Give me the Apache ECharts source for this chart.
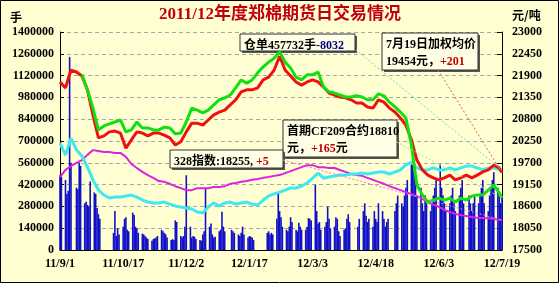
<!DOCTYPE html>
<html><head><meta charset="utf-8">
<script src="https://cdn.jsdelivr.net/npm/echarts/dist/echarts.min.js"></script>
<style>html,body{margin:0;padding:0;background:#fff}#c{width:559px;height:283px}</style>
</head><body><div id="c"></div>
<script>
// ---- categories / ticks ----
const startDate = [2011, 8, 1]; // 2011-09-01 (day 0)
const totalDays = 322;          // 2012-07-19
const xTickLabels = ['11/9/1','11/10/17','11/12/2','12/1/17','12/3/3','12/4/18','12/6/3','12/7/19'];
const holidays = ['2011-09-12','2011-10-03','2011-10-04','2011-10-05','2011-10-06','2011-10-07',
  '2012-01-02','2012-01-03','2012-01-23','2012-01-24','2012-01-25','2012-01-26','2012-01-27',
  '2012-04-02','2012-04-03','2012-04-04','2012-04-30','2012-05-01','2012-06-22'];

// ---- daily volume (手), one value per trading day, by month ----
const volSep = [480000,470000,450000,360000,380000,1240000,560000,400000,390000,560000,540000,300000,310000,290000,280000,440000,370000,360000,270000,230000,200000];
const volOct = [110000,250000,90000,140000,100000,150000,200000,210000,130000,120000,240000,225000,150000,140000,110000,105000];
const volNov = [100000,90000,80000,70000,60000,70000,75000,80000,90000,130000,120000,110000,100000,80000,65000,70000,65000,190000,180000,90000,80000,90000];
const volDec = [150000,480000,150000,80000,90000,85000,70000,65000,60000,100000,120000,400000,150000,170000,100000,80000,85000,120000,130000,245000,150000,120000];
const volJan = [130000,120000,110000,100000,90000,110000,150000,100000,80000,90000,85000,80000,65000,110000,120000];
const volFeb = [100000,110000,100000,200000,370000,250000,210000,150000,130000,120000,150000,210000,180000,130000,120000,175000,150000,130000,130000,150000,205000];
const volMar = [200000,190000,420000,250000,170000,180000,130000,150000,180000,280000,200000,140000,150000,210000,200000,120000,90000,130000,140000,200000,230000,180000];
const volApr = [150000,200000,250000,300000,220000,180000,200000,150000,250000,200000,180000,300000,250000,200000,150000,180000,200000];
const volMay = [250000,300000,350000,300000,280000,350000,400000,450000,550000,600000,500000,450000,350000,400000,300000,250000,350000,300000,250000,300000,350000,400000];
const volJun = [450000,550000,400000,350000,300000,250000,300000,350000,400000,300000,250000,350000,400000,450000,300000,350000,300000,250000,300000,350000];
const volJul = [300000,350000,400000,450000,300000,250000,350000,400000,450000,500000,400000,350000,300000,350000];

// ---- line samples (day offsets from 2011-09-01) ----
const lineDays = [0,4,8,12,16,20,24,28,32,36,40,44,48,52,56,60,64,68,72,76,80,84,88,92,96,100,104,108,112,116,120,124,128,132,136,140,144,148,152,156,160,164,168,172,176,180,184,188,192,196,200,204,208,212,216,220,224,228,232,236,240,244,248,252,256,260,264,268,272,276,280,284,288,292,296,300,304,308,312,316,320,322];
// 加权均价 (元/吨)
const avgPrice = [21740,21590,22040,21990,21890,21540,20910,20330,20380,20480,20500,20450,20070,20280,20480,20450,20380,20450,20450,20400,20330,20150,20230,20480,20700,20700,20650,20780,20910,20980,21030,21160,21290,21490,21540,21540,21590,21790,21860,22040,22390,22040,21890,21740,21660,21740,21790,21740,21610,21460,21410,21360,21340,21290,21210,21210,21110,21080,21290,21230,21080,20980,20830,20650,20280,19770,19520,19390,19320,19270,19320,19390,19270,19320,19390,19320,19390,19470,19520,19640,19570,19454];
// 首期合约 (元/吨)
const firstContract = [null,null,null,null,21920,21540,21080,20530,20630,20680,20730,20780,20480,20530,20730,20580,20580,20530,20530,20600,20580,20430,20450,20730,21080,21030,20960,21030,21160,21290,21340,21410,21590,21790,21710,21790,21970,22120,22240,22340,22500,22240,22090,21860,21790,21920,21920,21990,21610,21490,21460,21410,21360,21360,21390,21360,21290,21290,21440,21390,21230,21110,20980,20830,20150,19140,18890,18710,18760,18810,18760,18810,18710,18810,18760,18860,18890,18890,19010,19140,18940,18810];
// 仓单 (手)
const receipts = [687000,610000,719000,642000,604000,533000,450000,385000,353000,334000,340000,340000,347000,353000,340000,321000,308000,302000,302000,308000,295000,283000,276000,270000,263000,244000,238000,276000,302000,283000,302000,308000,295000,302000,308000,295000,289000,321000,347000,360000,372000,385000,398000,398000,411000,430000,462000,494000,462000,469000,475000,482000,482000,488000,488000,494000,488000,494000,501000,501000,488000,501000,514000,546000,565000,527000,514000,514000,527000,514000,514000,527000,514000,527000,539000,539000,527000,514000,527000,527000,514000,514000];
// 328指数 (元/吨)
const index328 = [19340,19520,19620,19700,19770,19900,20020,20000,19970,19970,19950,19950,19850,19670,19570,19470,19390,19320,19240,19220,19170,19110,19060,19010,19010,19060,19060,19060,19090,19090,19110,19170,19190,19220,19240,19270,19290,19320,19340,19370,19390,19440,19490,19540,19590,19640,19640,19590,19590,19570,19570,19520,19470,19420,19390,19370,19320,19270,19220,19170,19110,19060,19010,18960,18910,18860,18790,18710,18640,18590,18510,18460,18410,18380,18360,18330,18310,18310,18300,18280,18260,18255];

// ---- build trading-day positions ----
const t0 = Date.UTC(startDate[0], startDate[1], startDate[2]);
const tradeDays = [];
for (let d = 0; d <= totalDays; d++) {
  const dt = new Date(t0 + d * 86400000);
  const wd = dt.getUTCDay();
  const iso = dt.toISOString().slice(0, 10);
  if (wd !== 0 && wd !== 6 && holidays.indexOf(iso) < 0) tradeDays.push(d);
}
const volume = [].concat(volSep, volOct, volNov, volDec, volJan, volFeb, volMar, volApr, volMay, volJun, volJul);
const volData = tradeDays.map((d, i) => [d, volume[i]]);
const pair = arr => lineDays.map((d, i) => [d, arr[i]]);

const FONT = '"Liberation Serif", "Noto Sans CJK SC", serif';
const CJK = '"Noto Sans CJK SC", "Liberation Serif", sans-serif';
const MIX = '"Liberation Serif", "Noto Sans CJK SC", serif';

const chart = echarts.init(document.getElementById('c'));
const option = {
  backgroundColor: '#FFFFD2',
  animation: false,
  grid: { left: 60, right: 57, top: 32, bottom: 33 },
  xAxis: {
    type: 'value', min: 0, max: totalDays, interval: 46,
    axisLine: { lineStyle: { color: '#000', width: 1 } },
    axisTick: { show: false },
    splitLine: { show: false },
    axisLabel: { margin: 8, color: '#000', fontFamily: FONT, fontWeight: 'bold', fontSize: 12,
      formatter: v => xTickLabels[Math.round(v / 46)] || '' }
  },
  yAxis: [
    { type: 'value', min: 0, max: 1400000, interval: 140000, position: 'left',
      axisLine: { show: true, lineStyle: { color: '#000' } },
      axisTick: { show: true, inside: true, length: 4, lineStyle: { color: '#000' } },
      splitLine: { show: true, lineStyle: { color: '#A8A8A8', type: [4, 3], width: 1 } },
      axisLabel: { color: '#000', fontFamily: FONT, fontWeight: 'bold', fontSize: 12, margin: 6,
        formatter: v => String(v) } },
    { type: 'value', min: 17500, max: 23000, interval: 550, position: 'right',
      axisLine: { show: true, lineStyle: { color: '#000' } },
      axisTick: { show: true, inside: true, length: 5, lineStyle: { color: '#000' } },
      splitLine: { show: false },
      axisLabel: { color: '#000', fontFamily: FONT, fontWeight: 'bold', fontSize: 12, margin: 10,
        formatter: v => String(v) } }
  ],
  series: [
    { name: '成交量', type: 'bar', yAxisIndex: 0, data: volData, barWidth: 1.6,
      itemStyle: { color: '#1010C8' }, z: 1 },
    { name: '328指数', type: 'line', yAxisIndex: 1, data: pair(index328), symbol: 'none',
      lineStyle: { color: '#E020E0', width: 2 }, z: 2 },
    { name: '仓单', type: 'line', yAxisIndex: 0, data: pair(receipts), symbol: 'none',
      lineStyle: { color: '#40E8F0', width: 3 }, z: 3 },
    { name: '加权均价', type: 'line', yAxisIndex: 1, data: pair(avgPrice), symbol: 'none',
      lineStyle: { color: '#F01010', width: 3 }, z: 4 },
    { name: '首期合约', type: 'line', yAxisIndex: 1, data: pair(firstContract), symbol: 'none', connectNulls: false,
      lineStyle: { color: '#10E010', width: 3 }, z: 5 }
  ]
};
chart.setOption(option);

function endPx(axisIdx, arr) {
  return chart.convertToPixel({ xAxisIndex: 0, yAxisIndex: axisIdx }, [lineDays[lineDays.length - 1], arr[arr.length - 1]]);
}
const pCyan = endPx(0, receipts), pRed = endPx(1, avgPrice), pGreen = endPx(1, firstContract), pMag = endPx(1, index328);

function dotted(x1, y1, p, color) {
  return { type: 'line', z: 20, shape: { x1, y1, x2: p[0], y2: p[1] },
    style: { stroke: color, lineWidth: 1, lineDash: [2, 2] } };
}
function box(x, y, w, h, text, rich) {
  return { type: 'group', z: 30, children: [
    { type: 'rect', shape: { x: x + 2, y: y + 2, width: w, height: h }, style: { fill: '#555' } },
    { type: 'rect', shape: { x, y, width: w, height: h }, style: { fill: '#FFFFE6', stroke: '#333', lineWidth: 1 } },
    { type: 'text', style: { x: x + 4, y: y + 3, text, rich, lineHeight: 17 } }
  ] };
}
const base = { fontFamily: MIX, fontWeight: 'bold', fontSize: 12, fill: '#000', lineHeight: 17 };
const richAll = {
  k: base,
  b: Object.assign({}, base, { fill: '#000080' }),
  r: Object.assign({}, base, { fill: '#C00000' })
};

chart.setOption({
  graphic: [
    { type: 'rect', z: 50, shape: { x: 0.5, y: 0.5, width: 558, height: 282 }, style: { fill: 'none', stroke: '#000', lineWidth: 1 } },
    { type: 'text', z: 50, style: { x: 280, y: 15, text: '2011/12年度郑棉期货日交易情况', align: 'center', verticalAlign: 'middle',
        fontFamily: MIX, fontWeight: 'bold', fontSize: 17, fill: '#C00010', textShadowColor: '#5a0000', textShadowOffsetX: 1, textShadowOffsetY: 1, textShadowBlur: 0 } },
    { type: 'text', z: 50, style: { x: 10, y: 17, text: '手', verticalAlign: 'middle', fontFamily: CJK, fontWeight: 'bold', fontSize: 12, fill: '#000' } },
    { type: 'text', z: 50, style: { x: 512, y: 15, text: '元/吨', verticalAlign: 'middle', fontFamily: CJK, fontWeight: 'bold', fontSize: 12, fill: '#000' } },
    dotted(356, 50, pCyan, '#70D8C8'),
    dotted(438, 70, pRed, '#E06060'),
    dotted(397, 142, pGreen, '#90E890'),
    dotted(283, 160, pMag, '#E080D0'),
    box(240, 34, 115, 17, '{k|仓单457732手}{b|-8032}', richAll),
    box(382, 33, 96, 37, '{k|7月19日加权均价}\n{k|19454元，}{r|+201}', richAll),
    box(283, 120, 114, 37, '{k|首期CF209合约18810}\n{k|元，}{r|+165}{k|元}', richAll),
    box(170, 150, 113, 18, '{k|328指数:18255, }{r|+5}', richAll)
  ]
});
</script>
</body></html>
